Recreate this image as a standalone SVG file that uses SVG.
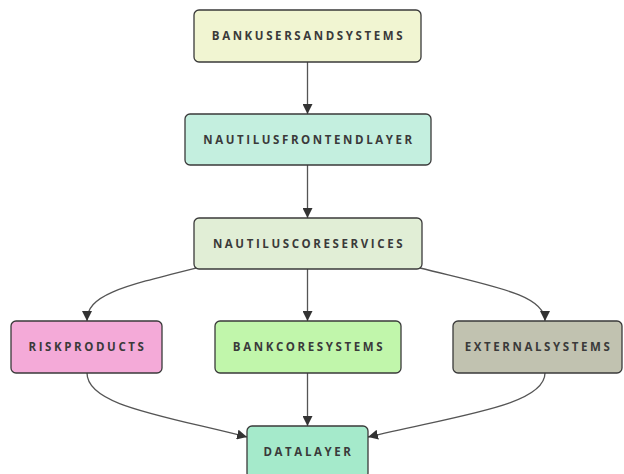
<svg xmlns="http://www.w3.org/2000/svg" width="624" height="474" viewBox="0 0 624 474">
<style>
.box{stroke:#3a3a3a;stroke-width:1.3}
.lbl{font-family:"Open Sans","DejaVu Sans",sans-serif;font-weight:700;font-size:11.5px;letter-spacing:2.6px;fill:#3a3a3a;text-anchor:middle}
.edge{fill:none;stroke:#555;stroke-width:1.3}
</style>
<defs>
<marker id="arr" viewBox="0 0 10 10" refX="10" refY="5" markerWidth="10" markerHeight="10" markerUnits="userSpaceOnUse" orient="auto">
<path d="M0,0 L10,5 L0,10 z" fill="#333"/>
</marker>
</defs>
<rect width="624" height="474" fill="#fff"/>
<g id="connectors">
<path class="edge" d="M307.5,62 L307.5,114" marker-end="url(#arr)"/>
<path class="edge" d="M307.5,165 L307.5,218" marker-end="url(#arr)"/>
<path class="edge" d="M307.5,269 L307.5,321" marker-end="url(#arr)"/>
<path class="edge" d="M196,268 C120,287 87,295 87,321" marker-end="url(#arr)"/>
<path class="edge" d="M420,268 C496,287 545,295 545,321" marker-end="url(#arr)"/>
<path class="edge" d="M87,373 C87,405 160,415 247,437" marker-end="url(#arr)"/>
<path class="edge" d="M307.5,373 L307.5,426" marker-end="url(#arr)"/>
<path class="edge" d="M545,373 C545,405 460,415 368,437" marker-end="url(#arr)"/>
</g>
<g id="bankusers">
<rect class="box" x="194" y="10" width="227" height="52" rx="5" fill="#f1f5d2"/>
<text class="lbl" x="308.5" y="40">BANKUSERSANDSYSTEMS</text>
</g>
<g id="frontend">
<rect class="box" x="185" y="114" width="246" height="51" rx="5" fill="#c4efdf"/>
<text class="lbl" x="309" y="144">NAUTILUSFRONTENDLAYER</text>
</g>
<g id="coreservices">
<rect class="box" x="194" y="218" width="228" height="51" rx="5" fill="#e1eed6"/>
<text class="lbl" x="309" y="248">NAUTILUSCORESERVICES</text>
</g>
<g id="riskproducts">
<rect class="box" x="11" y="321" width="151" height="52" rx="5" fill="#f4aad8"/>
<text class="lbl" x="87.5" y="351">RISKPRODUCTS</text>
</g>
<g id="bankcore">
<rect class="box" x="215" y="321" width="186" height="52" rx="5" fill="#c1f6ab"/>
<text class="lbl" x="309" y="351">BANKCORESYSTEMS</text>
</g>
<g id="external">
<rect class="box" x="453" y="321" width="169" height="52" rx="5" fill="#c1c2b0"/>
<text class="lbl" x="538.5" y="351">EXTERNALSYSTEMS</text>
</g>
<g id="datalayer">
<rect class="box" x="247" y="426" width="121" height="52" rx="5" fill="#a5eacb"/>
<text class="lbl" x="308.5" y="456">DATALAYER</text>
</g>
</svg>
